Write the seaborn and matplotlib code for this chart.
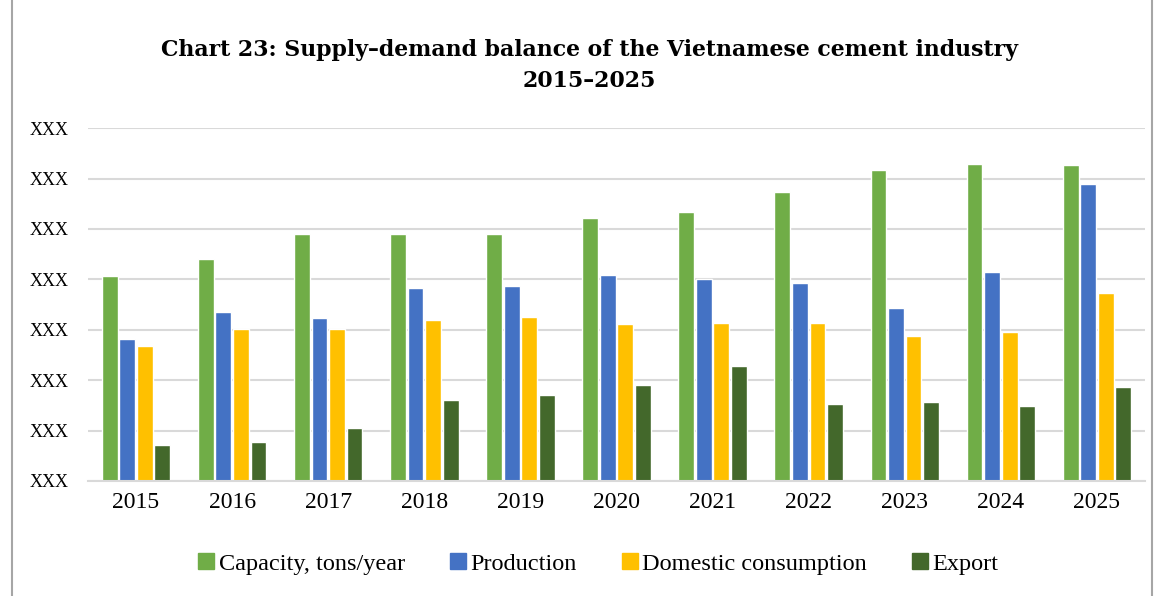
import matplotlib
matplotlib.use("Agg")
import matplotlib.pyplot as plt
import seaborn as sns
import pandas as pd
from matplotlib.lines import Line2D

years = ["2015", "2016", "2017", "2018", "2019", "2020", "2021", "2022", "2023", "2024", "2025"]
capacity = [4.07, 4.40, 4.90, 4.90, 4.90, 5.22, 5.34, 5.73, 6.17, 6.29, 6.27]
production = [2.82, 3.35, 3.23, 3.83, 3.87, 4.09, 4.01, 3.93, 3.43, 4.15, 5.89]
domestic = [2.68, 3.02, 3.02, 3.19, 3.25, 3.12, 3.13, 3.13, 2.88, 2.96, 3.73]
export = [0.71, 0.77, 1.05, 1.61, 1.71, 1.90, 2.28, 1.53, 1.57, 1.49, 1.87]
series_names = ["Capacity, tons/year", "Production", "Domestic consumption", "Export"]
colors = ["#70AD47", "#4472C4", "#FFC000", "#43682B"]
y_ticks = [0, 1, 2, 3, 4, 5, 6, 7]
y_tick_labels = ["XXX"] * 8
title = "Chart 23: Supply\u2013demand balance of the Vietnamese cement industry\n2015\u20132025"

rows = []
for name, vals in zip(series_names, [capacity, production, domestic, export]):
    for y, v in zip(years, vals):
        rows.append({"year": y, "series": name, "value": v})
df = pd.DataFrame(rows)

sns.set_style("white")
plt.rcParams["font.family"] = ["Liberation Serif", "DejaVu Serif"]
plt.rcParams["text.color"] = "#000000"

fig = plt.figure(figsize=(11.56, 5.96), dpi=100)
ax = fig.add_axes([0.0761, 0.193, 0.9144, 0.592])
sns.barplot(data=df, x="year", y="value", hue="series", palette=colors,
            width=0.73, gap=0.1, ax=ax, legend=False, saturation=1)

ax.set_ylim(0, 7)
ax.set_xlim(-0.5, 10.5)
ax.set_yticks(y_ticks)
ax.set_yticklabels(y_tick_labels, fontsize=13, color="#000000")
for lab in ax.get_yticklabels():
    lab.set_horizontalalignment("left")
ax.tick_params(axis="y", length=0, pad=42)
ax.tick_params(axis="x", length=0, labelsize=17, pad=8, labelcolor="#000000")
ax.yaxis.grid(True, color="#D9D9D9", linewidth=1.5)
ax.set_axisbelow(True)
for s in ["top", "right", "left"]:
    ax.spines[s].set_visible(False)
ax.spines["bottom"].set_color("#D9D9D9")
ax.spines["bottom"].set_linewidth(1.5)
ax.set_xlabel("")
ax.set_ylabel("")

fig.text(0.51, 0.935, title, ha="center", va="top", fontsize=15.8,
         fontweight="bold", linespacing=1.55, family=["DejaVu Serif"], color="#000000")

handles = [Line2D([0], [0], marker="s", linestyle="", markersize=11,
                  markerfacecolor=c, markeredgecolor=c) for c in colors]
fig.legend(handles, series_names, loc="center", bbox_to_anchor=(0.517, 0.054),
           ncol=4, frameon=False, fontsize=17.5, handletextpad=0.1,
           columnspacing=1.8, handlelength=0.8)

# figure border
fig.add_artist(Line2D([12 / 1156, 12 / 1156], [0, 1], color="#A6A6A6", lw=1.5, transform=fig.transFigure))
fig.add_artist(Line2D([1152 / 1156, 1152 / 1156], [0, 1], color="#A6A6A6", lw=1.5, transform=fig.transFigure))

fig.savefig("out.png", dpi=100)
